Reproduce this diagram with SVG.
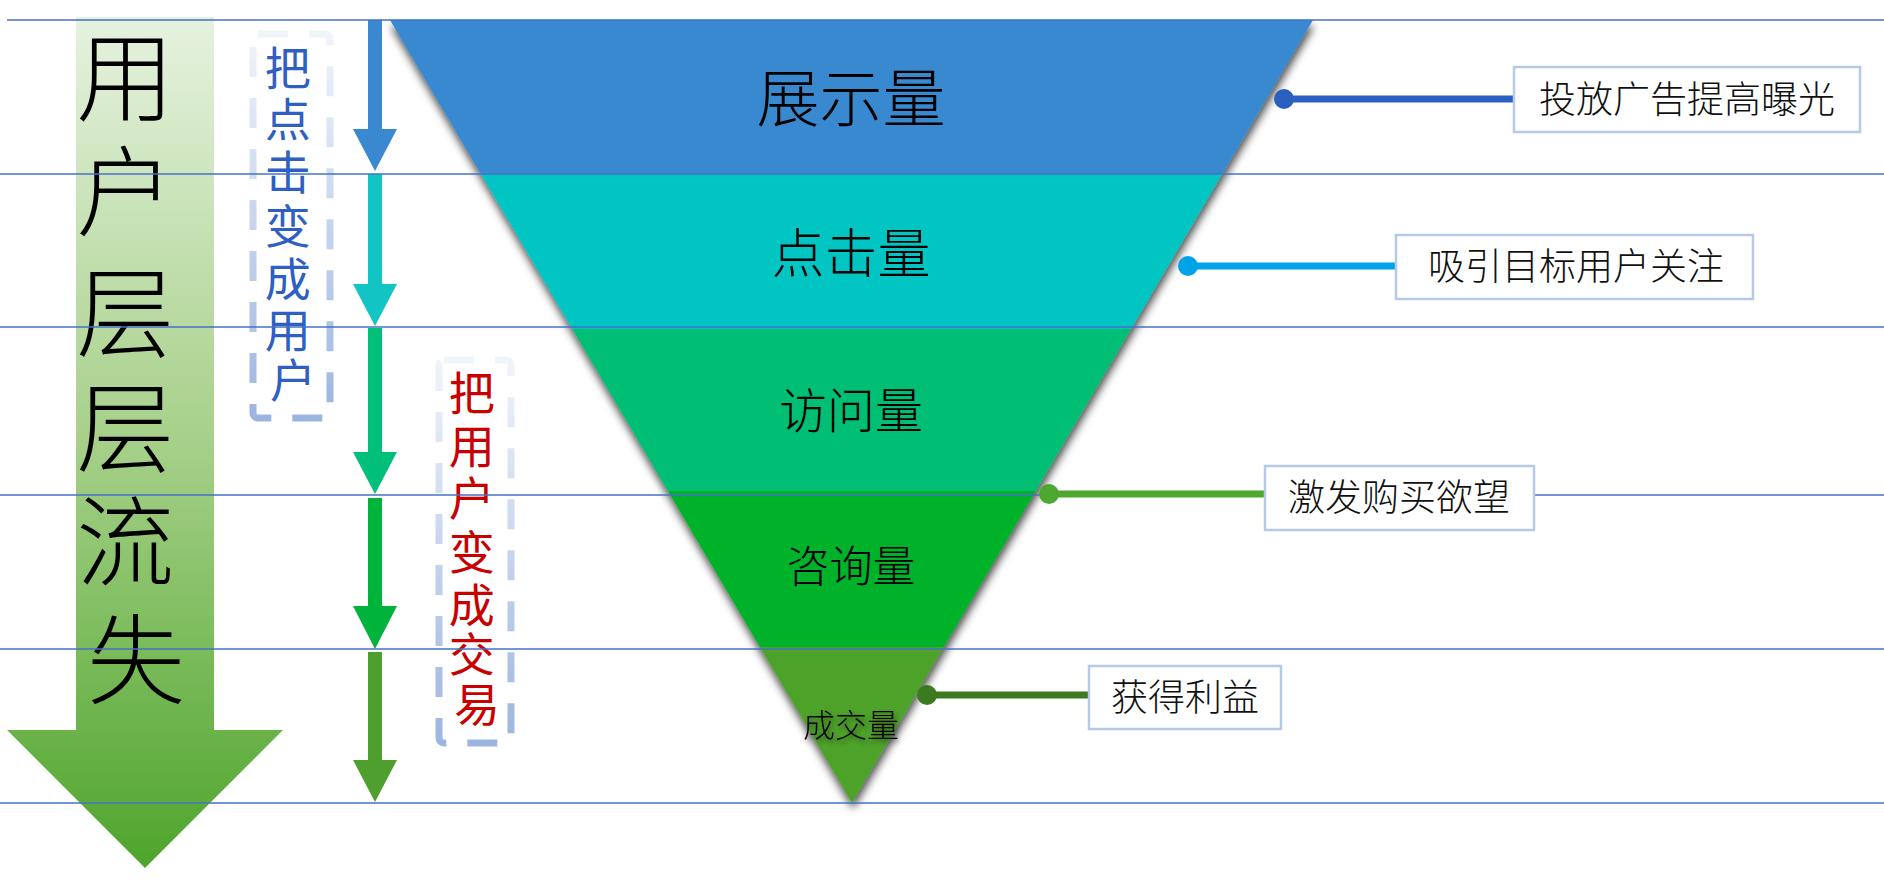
<svg xmlns="http://www.w3.org/2000/svg" width="1884" height="880" viewBox="0 0 1884 880">
<style>
  .cjk{font-family:"Noto Sans CJK SC","Noto Sans CJK JP",sans-serif;}
  .ftxt{font-family:"Noto Sans CJK SC",sans-serif;font-weight:300;fill:#000;text-anchor:middle;}
  .lbl{font-family:"Noto Sans CJK SC",sans-serif;font-weight:300;font-size:37px;fill:#111;text-anchor:middle;}
  .box{fill:#fff;stroke:#b7c9e8;stroke-width:2.5;}
  .hline{stroke:#4472c4;stroke-width:1.6;}
  .dash{fill:none;stroke-width:7;stroke-dasharray:30 21;}
</style>
<defs>
  <linearGradient id="bigG" x1="0" y1="0" x2="0" y2="1">
    <stop offset="0" stop-color="#e6f2df"/>
    <stop offset="0.5" stop-color="#a6d089"/>
    <stop offset="1" stop-color="#4ea52b"/>
  </linearGradient>
  <linearGradient id="dashG" x1="0" y1="0" x2="0" y2="1">
    <stop offset="0" stop-color="#f0f4fb"/>
    <stop offset="1" stop-color="#9cb5e0"/>
  </linearGradient>
  <clipPath id="funClip">
    <polygon points="390,20 1313,20 852,803"/>
  </clipPath>
  <filter id="sh" x="-10%" y="-10%" width="130%" height="130%">
    <feDropShadow dx="1" dy="6" stdDeviation="4" flood-color="#000" flood-opacity="0.7"/>
  </filter>
  <filter id="tsh" x="-20%" y="-20%" width="140%" height="160%">
    <feDropShadow dx="2" dy="3" stdDeviation="2.5" flood-color="#000" flood-opacity="0.45"/>
  </filter>
</defs>
<rect width="1884" height="880" fill="#fff"/>

<g id="big-arrow">
  <polygon points="76,17 214,17 214,730 283,730 145,868 7,730 76,730" fill="url(#bigG)"/>
  <text class="cjk" font-size="98" font-weight="300" text-anchor="middle" fill="#000">
    <tspan x="136" y="113">用</tspan>
    <tspan x="136" y="228">户</tspan>
    <tspan x="136" y="349">层</tspan>
    <tspan x="136" y="464">层</tspan>
    <tspan x="136" y="578">流</tspan>
    <tspan x="136" y="696">失</tspan>
  </text>
</g>

<g id="note-click">
  <rect class="dash" x="253" y="34" width="77" height="384" rx="5" stroke="url(#dashG)"/>
  <text class="cjk" font-size="46" text-anchor="middle" fill="#2f5fc2">
    <tspan x="293" y="85">把</tspan>
    <tspan x="293" y="136">点</tspan>
    <tspan x="293" y="189">击</tspan>
    <tspan x="293" y="243">变</tspan>
    <tspan x="293" y="296">成</tspan>
    <tspan x="293" y="347">用</tspan>
    <tspan x="293" y="397">户</tspan>
  </text>
</g>

<g id="note-deal">
  <rect class="dash" x="439" y="360" width="72" height="383" rx="5" stroke="url(#dashG)"/>
  <text class="cjk" font-size="46" text-anchor="middle" fill="#c80000">
    <tspan x="477" y="410">把</tspan>
    <tspan x="477" y="463">用</tspan>
    <tspan x="477" y="515">户</tspan>
    <tspan x="477" y="569">变</tspan>
    <tspan x="477" y="622">成</tspan>
    <tspan x="477" y="671">交</tspan>
    <tspan x="477" y="721">易</tspan>
  </text>
</g>

<g id="step-arrows">
  <polygon points="368,20 382,20 382,129 397,129 375,171 353,129 368,129" fill="#3a88d0"/>
  <polygon points="368,174 382,174 382,284 397,284 375,326 353,284 368,284" fill="#13c4c4"/>
  <polygon points="368,328 382,328 382,452 397,452 375,494 353,452 368,452" fill="#00bf78"/>
  <polygon points="368,498 382,498 382,606 397,606 375,649 353,606 368,606" fill="#00b33a"/>
  <polygon points="368,652 382,652 382,760 397,760 375,802 353,760 368,760" fill="#4e9f2e"/>
</g>

<g id="funnel">
  <g filter="url(#sh)">
    <g clip-path="url(#funClip)">
      <rect x="380" y="20" width="950" height="154" fill="#3789d0"/>
      <rect x="380" y="174" width="950" height="155" fill="#00c5c3"/>
      <rect x="380" y="329" width="950" height="162" fill="#00bf74"/>
      <rect x="380" y="491" width="950" height="156" fill="#00b22a"/>
      <rect x="380" y="647" width="950" height="160" fill="#4ea22a"/>
    </g>
  </g>
  <text class="ftxt" x="851" y="121" font-size="63">展示量</text>
  <text class="ftxt" x="851" y="273" font-size="53">点击量</text>
  <text class="ftxt" x="851" y="428" font-size="48">访问量</text>
  <text class="ftxt" x="851" y="582" font-size="43">咨询量</text>
  <text class="ftxt" x="851" y="737" font-size="32" filter="url(#tsh)">成交量</text>
</g>

<g id="guides">
  <line class="hline" x1="7" y1="20" x2="1884" y2="20"/>
  <line class="hline" x1="0" y1="174" x2="1884" y2="174"/>
  <line class="hline" x1="0" y1="327" x2="1884" y2="327"/>
  <line class="hline" x1="0" y1="495" x2="1884" y2="495"/>
  <line class="hline" x1="0" y1="649" x2="1884" y2="649"/>
  <line class="hline" x1="0" y1="803" x2="1884" y2="803"/>
</g>

<g id="connectors">
  <line x1="1284" y1="99" x2="1514" y2="99" stroke="#2b5fc0" stroke-width="7"/>
  <circle cx="1284" cy="99" r="10" fill="#2b5fc0"/>
  <line x1="1188" y1="266" x2="1396" y2="266" stroke="#00a3e8" stroke-width="7"/>
  <circle cx="1188" cy="266" r="10" fill="#00a3e8"/>
  <line x1="1049" y1="494" x2="1265" y2="494" stroke="#4ea72e" stroke-width="7"/>
  <circle cx="1049" cy="494" r="10" fill="#4ea72e"/>
  <line x1="927" y1="695" x2="1089" y2="695" stroke="#3b7a1f" stroke-width="7"/>
  <circle cx="927" cy="695" r="10" fill="#3b7a1f"/>
</g>

<g id="label-exposure">
  <rect class="box" x="1514" y="67" width="346" height="65"/>
  <text class="lbl" x="1687" y="113">投放广告提高曝光</text>
</g>
<g id="label-attract">
  <rect class="box" x="1396" y="235" width="357" height="64"/>
  <text class="lbl" x="1576" y="280">吸引目标用户关注</text>
</g>
<g id="label-desire">
  <rect class="box" x="1265" y="466" width="269" height="64"/>
  <text class="lbl" x="1399" y="511">激发购买欲望</text>
</g>
<g id="label-profit">
  <rect class="box" x="1089" y="666" width="192" height="63"/>
  <text class="lbl" x="1185" y="711">获得利益</text>
</g>
</svg>
